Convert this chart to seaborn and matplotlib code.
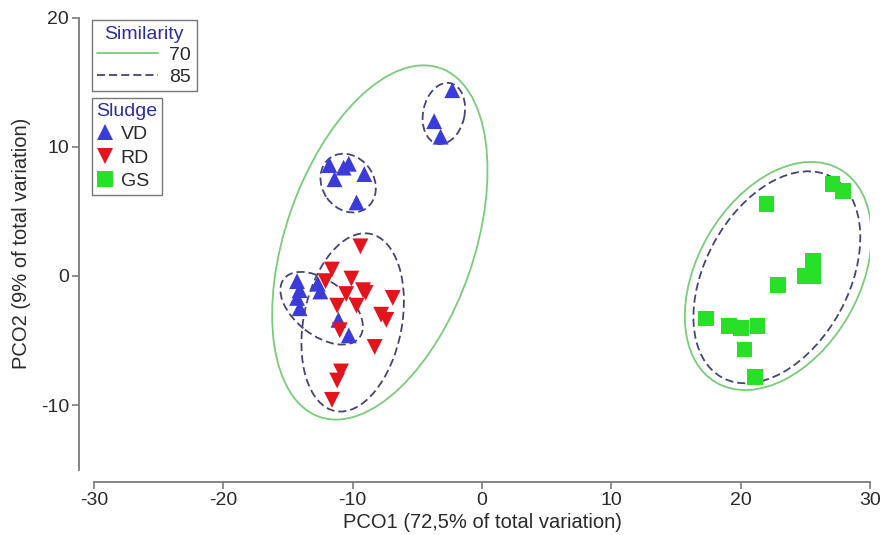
import numpy as np
import pandas as pd
import matplotlib
matplotlib.use("Agg")
import matplotlib.pyplot as plt
import seaborn as sns
from matplotlib.patches import Ellipse
from matplotlib.lines import Line2D

# ---------------- data ----------------
vd_x = [-2.3, -3.7, -3.2, -11.8, -10.7, -10.3, -11.4, -9.1, -9.7,
        -14.3, -14.1, -14.3, -14.1, -12.7, -12.5, -11.1, -10.3]
vd_y = [14.4, 12.0, 10.8, 8.6, 8.4, 8.7, 7.5, 7.9, 5.7,
        -0.4, -1.1, -1.7, -2.5, -0.6, -1.2, -3.4, -4.6]
rd_x = [-9.4, -11.6, -12.1, -10.1, -10.5, -9.2, -9.0, -11.2, -9.7,
        -6.9, -7.8, -7.4, -11.0, -8.3, -10.9, -11.2, -11.6]
rd_y = [2.3, 0.5, -0.4, -0.2, -1.4, -1.1, -1.3, -2.3, -2.3,
        -1.7, -3.0, -3.4, -4.2, -5.5, -7.4, -8.1, -9.6]
gs_x = [27.1, 27.9, 22.0, 25.6, 25.0, 25.6, 22.9, 17.3, 19.1, 20.0, 21.3, 20.3, 21.1]
gs_y = [7.1, 6.6, 5.6, 1.2, 0.0, 0.0, -0.7, -3.3, -3.9, -4.0, -3.9, -5.7, -7.8]

sludge_names = ["VD", "RD", "GS"]
similarity_levels = ["70", "85"]

# similarity contours: (level, centre x, centre y, width, height, angle)
contour_level = ["70", "85", "85", "85", "85", "70", "85"]
contour_cx = [-7.9, -2.95, -10.35, -12.4, -10.0, 22.9, 22.8]
contour_cy = [2.6, 12.6, 7.2, -2.5, -3.6, 0.0, -0.1]
contour_w = [28.6, 4.8, 4.8, 7.4, 14.0, 19.1, 17.7]
contour_h = [14.6, 3.2, 4.0, 4.2, 7.6, 12.5, 11.1]
contour_ang = [71, 78, -55, -38, 79, 60, 61.5]

x_ticks = [-30, -20, -10, 0, 10, 20, 30]
y_ticks = [-10, 0, 10, 20]

df = pd.DataFrame({
    "PCO1": vd_x + rd_x + gs_x,
    "PCO2": vd_y + rd_y + gs_y,
    "Sludge": ["VD"] * len(vd_x) + ["RD"] * len(rd_x) + ["GS"] * len(gs_x),
})

# ---------------- style ----------------
sns.set_theme(style="white")
plt.rcParams["font.family"] = ["Liberation Sans", "DejaVu Sans"]
plt.rcParams["axes.unicode_minus"] = False

colors = {"VD": "#3b3bd9", "RD": "#e3141c", "GS": "#27e027"}
markers = {"VD": "^", "RD": "v", "GS": "s"}
line_colors = {"70": "#7acb7a", "85": "#454575"}
line_styles = {"70": "-", "85": (0, (4.5, 2.2))}
axis_grey = "#7a7a7a"
text_col = "#2a2a2a"
title_blue = "#2e2e9e"
fs = 14

fig = plt.figure(figsize=(8.81, 5.35), dpi=100)
ax = fig.add_axes([0.1067, 0.1224, 0.8808, 0.8440])

for lev, cx, cy, w, h, a in zip(contour_level, contour_cx, contour_cy,
                                contour_w, contour_h, contour_ang):
    ax.add_patch(Ellipse((cx, cy), w, h, angle=a, fill=False,
                         edgecolor=line_colors[lev], linestyle=line_styles[lev],
                         linewidth=1.3, zorder=1))

sns.scatterplot(data=df, x="PCO1", y="PCO2", hue="Sludge", style="Sludge",
                palette=colors, markers=markers, hue_order=sludge_names,
                style_order=sludge_names, s=130, edgecolor="none",
                legend=False, ax=ax, zorder=3)

ax.set_xlim(-30, 30)
ax.set_ylim(-15, 20)
ax.set_xticks(x_ticks)
ax.set_yticks(y_ticks)
ax.set_xticklabels([str(t) for t in x_ticks])
ax.set_yticklabels([str(t) for t in y_ticks])

for s in ["top", "right"]:
    ax.spines[s].set_visible(False)
ax.spines["left"].set_position(("outward", 11))
ax.spines["bottom"].set_position(("outward", 9))
for s in ["left", "bottom"]:
    ax.spines[s].set_color(axis_grey)
    ax.spines[s].set_linewidth(1.3)
ax.tick_params(axis="both", direction="out", length=5, width=1.2,
               color=axis_grey, labelsize=fs, labelcolor=text_col, pad=2,
               bottom=True, left=True)

ax.set_xlabel("PCO1 (72,5% of total variation)", fontsize=fs + 0.5,
              color=text_col, labelpad=3)
ax.set_ylabel("PCO2 (9% of total variation)", fontsize=fs + 0.5,
              color=text_col, labelpad=7)

# ---------------- legends ----------------
h1 = [Line2D([], [], color=line_colors[l], linestyle=line_styles[l], linewidth=1.3)
      for l in similarity_levels]
leg1 = ax.legend(h1, similarity_levels, title="Similarity", loc="upper left",
                 bbox_to_anchor=(0.104, 0.963), bbox_transform=fig.transFigure,
                 frameon=True, fancybox=False, edgecolor="#555555",
                 handlelength=3.1, handletextpad=0.6, borderpad=0.3,
                 labelspacing=0.2, borderaxespad=0, fontsize=fs,
                 title_fontsize=fs)
leg1.get_title().set_color(title_blue)
leg1.get_frame().set_linewidth(1.0)
for t in leg1.get_texts():
    t.set_color(text_col)
ax.add_artist(leg1)

h2 = [Line2D([], [], linestyle="none", marker=markers[n], color=colors[n],
             markersize=11.5, markeredgewidth=0) for n in sludge_names]
leg2 = ax.legend(h2, sludge_names, title="Sludge", loc="upper left",
                 bbox_to_anchor=(0.104, 0.817), bbox_transform=fig.transFigure,
                 frameon=True, fancybox=False, edgecolor="#555555",
                 handlelength=0.9, handletextpad=0.35, borderpad=0.25,
                 labelspacing=0.3, borderaxespad=0, fontsize=fs,
                 title_fontsize=fs, alignment="left")
leg2.get_title().set_color(title_blue)
leg2.get_frame().set_linewidth(1.0)
for t in leg2.get_texts():
    t.set_color(text_col)

fig.savefig("out.png", dpi=100, facecolor="white")
